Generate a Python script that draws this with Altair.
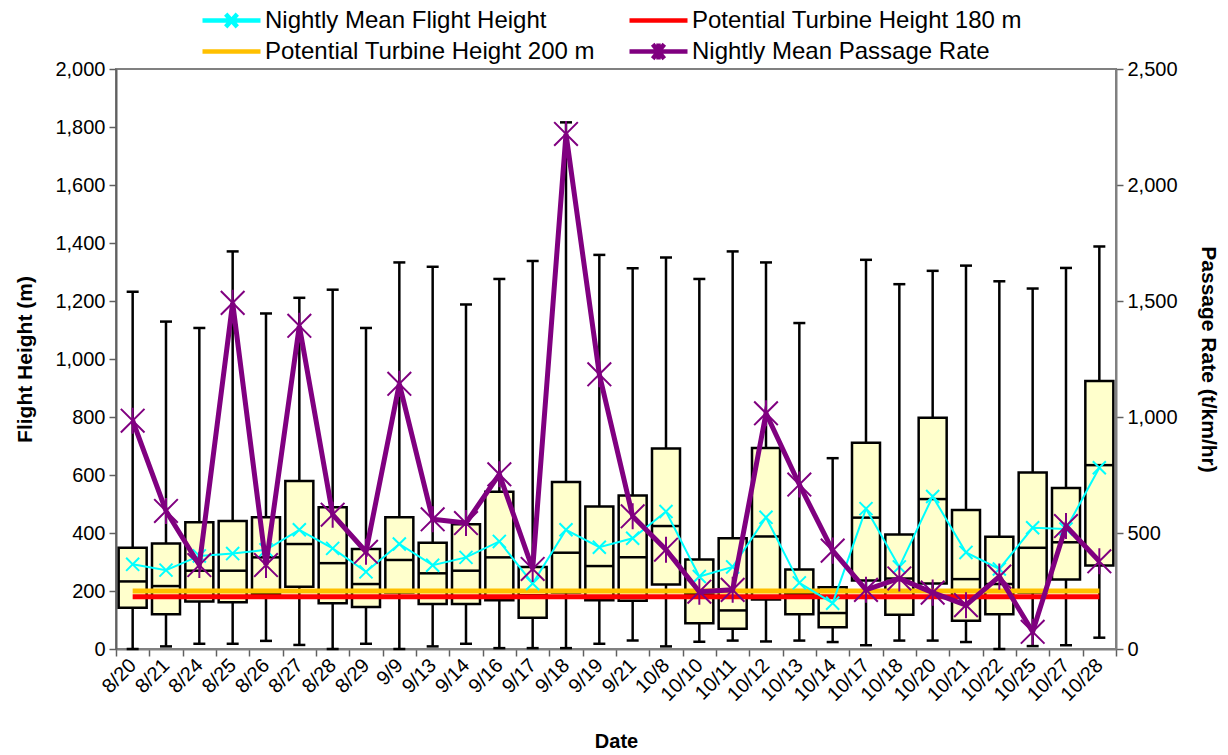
import altair as alt
import pandas as pd

dates = ["8/20", "8/21", "8/24", "8/25", "8/26", "8/27", "8/28", "8/29", "9/9", "9/13",
         "9/14", "9/16", "9/17", "9/18", "9/19", "9/21", "10/8", "10/10", "10/11", "10/12",
         "10/13", "10/14", "10/17", "10/18", "10/20", "10/21", "10/22", "10/25", "10/27", "10/28"]
whisker_max = [1232, 1129, 1107, 1371, 1157, 1211, 1239, 1107, 1333, 1318,
               1188, 1276, 1338, 1816, 1359, 1313, 1350, 1276, 1371, 1333,
               1124, 658, 1342, 1258, 1304, 1322, 1268, 1243, 1314, 1388]
box_q3 = [349, 364, 437, 441, 454, 579, 489, 345, 454, 366,
          430, 542, 283, 576, 491, 529, 691, 309, 382, 693,
          274, 213, 711, 395, 797, 479, 387, 609, 555, 924]
median = [233, 217, 270, 270, 316, 362, 296, 224, 307, 261,
          270, 316, 185, 332, 286, 316, 424, 190, 133, 388,
          190, 124, 453, 243, 517, 241, 224, 349, 368, 634]
box_q1 = [142, 120, 164, 161, 190, 215, 158, 145, 195, 155,
          155, 168, 108, 195, 168, 166, 222, 89, 70, 171,
          120, 75, 236, 118, 226, 97, 120, 195, 240, 288]
whisker_min = [0, 9, 18, 18, 28, 14, 0, 18, 0, 9,
               18, 3, 3, 3, 18, 29, 9, 25, 29, 26,
               29, 24, 13, 29, 29, 24, 0, 10, 13, 39]
mean_height = [292, 272, 321, 329, 342, 411, 347, 266, 362, 289,
               316, 371, 226, 411, 351, 382, 474, 250, 283, 454,
               228, 158, 484, 283, 526, 333, 276, 418, 414, 625]
passage_rate = [984, 595, 362, 1492, 362, 1393, 579, 419, 1143, 559,
                543, 753, 345, 2220, 1184, 572, 428, 247, 255, 1016,
                709, 424, 255, 304, 243, 189, 312, 74, 530, 378]
turbine_180 = [180] * len(dates)
turbine_200 = [200] * len(dates)

# legend entries (listed column by column: left column first)
series_names = ["Nightly Mean Flight Height", "Potential Turbine Height 200 m",
                "Potential Turbine Height 180 m", "Nightly Mean Passage Rate"]
series_colors = ["#00FFFF", "#FFC000", "#FF0000", "#800080"]

df = pd.DataFrame({
    "date": dates, "wmax": whisker_max, "q3": box_q3, "med": median, "q1": box_q1,
    "wmin": whisker_min, "mean": mean_height, "passage": passage_rate,
    "t180": turbine_180, "t200": turbine_200,
})

FONT = "Liberation Sans"
X_PATH = "M-1,-1L1,1M-1,1L1,-1"
STAR_PATH = "M-1,-1L1,1M-1,1L1,-1M0,-1.1L0,1.1"

xenc = alt.X("date:N", sort=dates,
             scale=alt.Scale(domain=dates, paddingInner=0, paddingOuter=0),
             axis=alt.Axis(title="Date", labelAngle=-45, labelAlign="right",
                           labelBaseline="middle", tickBand="extent", tickSize=7,
                           labelPadding=6, titlePadding=27, domainColor="#808080"))
yscale = alt.Scale(domain=[0, 2000], nice=False)
rscale = alt.Scale(domain=[0, 2500], nice=False)

base = alt.Chart(df)

whisk = base.mark_rule(color="black", strokeWidth=2.5).encode(
    x=xenc,
    y=alt.Y("wmin:Q", scale=yscale,
            axis=alt.Axis(title="Flight Height (m)", orient="left",
                          values=list(range(0, 2001, 200)),
                          format=",d", tickSize=7, labelPadding=4, titlePadding=19,
                          titleFontSize=21, domainColor="#606060")),
    y2="wmax:Q")
cap_top = base.mark_tick(color="black", thickness=2.5, size=12, opacity=1).encode(
    x=xenc, y=alt.Y("wmax:Q", scale=yscale, axis=None))
cap_bot = base.mark_tick(color="black", thickness=2.5, size=12, opacity=1).encode(
    x=xenc, y=alt.Y("wmin:Q", scale=yscale, axis=None))
box = base.mark_bar(fill="#FFFFCC", stroke="black", strokeWidth=2.5, size=28).encode(
    x=xenc, y=alt.Y("q1:Q", scale=yscale, axis=None), y2="q3:Q")
med = base.mark_tick(color="black", thickness=2.5, size=28, opacity=1).encode(
    x=xenc, y=alt.Y("med:Q", scale=yscale, axis=None))
line180 = base.mark_line(color="#FF0000", strokeWidth=5).encode(
    x=xenc, y=alt.Y("t180:Q", scale=yscale, axis=None))
line200 = base.mark_line(color="#FFC000", strokeWidth=5).encode(
    x=xenc, y=alt.Y("t200:Q", scale=yscale, axis=None))
mean_line = base.mark_line(color="#00FFFF", strokeWidth=2).encode(
    x=xenc, y=alt.Y("mean:Q", scale=yscale, axis=None))
mean_pts = base.mark_point(shape=X_PATH, size=170, filled=False, color="#00FFFF",
                           strokeWidth=2, opacity=1).encode(
    x=xenc, y=alt.Y("mean:Q", scale=yscale, axis=None))

legend_shapes = ["M-1,0L1,0M-0.2,-0.22L0.2,0.22M-0.2,0.22L0.2,-0.22",
                 "M-1,0L1,0", "M-1,0L1,0",
                 "M-1,0L1,0M-0.2,-0.25L0.2,0.25M-0.2,0.25L0.2,-0.25M0,-0.28L0,0.28"]
leg = alt.Legend(title=None, orient="none", legendX=84, legendY=-64, columns=2,
                 labelFontSize=24, labelFont=FONT, labelColor="black", labelLimit=600,
                 symbolSize=3364, symbolStrokeWidth=4.5, columnPadding=32, rowPadding=0,
                 clipHeight=31, labelOffset=2)
legend_df = pd.DataFrame({"series": series_names, "date": dates[:4], "v": [0, 0, 0, 0]})
legend_layer = alt.Chart(legend_df).transform_filter("false").mark_point(
    filled=False, opacity=1).encode(
    x=xenc, y=alt.Y("v:Q", scale=yscale, axis=None),
    color=alt.Color("series:N", scale=alt.Scale(domain=series_names, range=series_colors), legend=leg),
    shape=alt.Shape("series:N", scale=alt.Scale(domain=series_names, range=legend_shapes), legend=leg))

p_line = base.mark_line(color="#800080", strokeWidth=5).encode(
    x=xenc,
    y=alt.Y("passage:Q", scale=rscale,
            axis=alt.Axis(title="Passage Rate (t/km/hr)", orient="right",
                          values=list(range(0, 2501, 500)), format=",d", tickSize=7,
                          labelPadding=4, titlePadding=20, titleAngle=90,
                          titleFontSize=21, domainColor="#808080")))
p_pts = base.mark_point(shape=STAR_PATH, size=560, filled=False, color="#800080",
                        strokeWidth=2, opacity=1).encode(
    x=xenc, y=alt.Y("passage:Q", scale=rscale, axis=None))

chart = alt.layer(whisk, cap_top, cap_bot, box, med, line180, line200, mean_line, mean_pts,
                  legend_layer, p_line, p_pts).resolve_scale(y="independent").properties(
    width=1000, height=580,
    autosize=alt.AutoSizeParams(type="none"),
    padding={"left": 116, "top": 69, "right": 112, "bottom": 106},
    background="white",
).configure_view(stroke="#808080", strokeWidth=2).configure_axis(
    labelFont=FONT, titleFont=FONT, labelFontSize=20, titleFontSize=20,
    titleFontWeight="bold", labelColor="black", titleColor="black",
    tickColor="#606060", tickWidth=1.5, domainWidth=2, grid=False,
)

chart.save("out.html", embed_options={"renderer": "svg", "actions": False})
